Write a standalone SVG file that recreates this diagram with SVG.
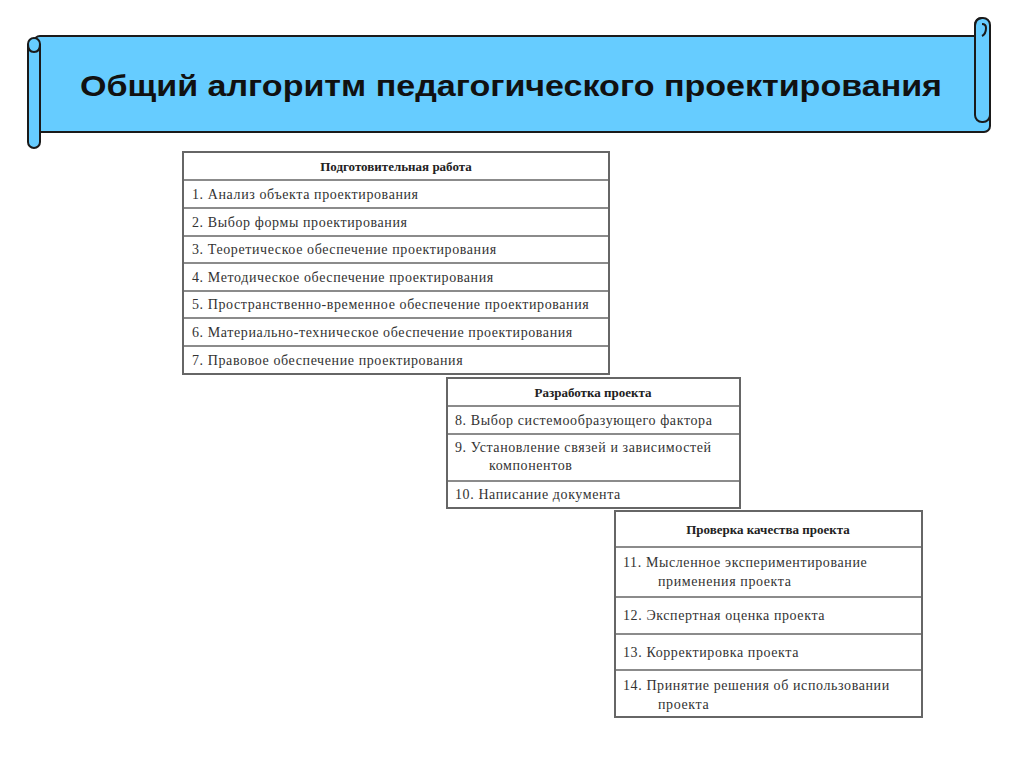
<svg xmlns="http://www.w3.org/2000/svg" width="1024" height="767" viewBox="0 0 1024 767">
<style>
.t{font-family:"Liberation Serif",serif;font-size:14px;letter-spacing:0.6px;fill:#333}
.h{font-family:"Liberation Serif",serif;font-size:13px;font-weight:bold;fill:#222}
.box{fill:#fff;stroke:#666;stroke-width:2}
.ln{stroke:#666;stroke-width:1.5}
.sc{fill:#66CCFF;stroke:#1a1a1a;stroke-width:2}
</style>
<rect width="1024" height="767" fill="#fff"/>
<g id="banner">
<rect class="sc" x="34" y="36" width="956" height="96" rx="6"/>
<rect class="sc" x="28" y="38" width="12" height="110" rx="6"/>
<path d="M28,44 Q28,52 34,52 Q40,52 40,44" fill="none" stroke="#1a1a1a" stroke-width="2"/>
<rect class="sc" x="975" y="18" width="15" height="104" rx="7"/>
<path d="M975,36 L975,26 Q975,18 982,18 M982,36 Q986,34 986,28 Q986,24 982,24" fill="none" stroke="#1a1a1a" stroke-width="2"/>
<text x="511" y="96" text-anchor="middle" font-family="Liberation Sans,Arial,sans-serif" font-size="30" font-weight="bold" fill="#111" textLength="862" lengthAdjust="spacingAndGlyphs">Общий алгоритм педагогического проектирования</text>
</g>
<g id="table1">
<rect class="box" x="183" y="152" width="426" height="222"/>
<path class="ln" d="M183,180H609M183,208H609M183,236H609M183,263H609M183,291H609M183,318H609M183,346H609"/>
<text class="h" x="396" y="171" text-anchor="middle">Подготовительная работа</text>
<text class="t" x="192" y="199">1. Анализ объекта проектирования</text>
<text class="t" x="192" y="227">2. Выбор формы проектирования</text>
<text class="t" x="192" y="254">3. Теоретическое обеспечение проектирования</text>
<text class="t" x="192" y="282">4. Методическое обеспечение проектирования</text>
<text class="t" x="192" y="309">5. Пространственно-временное обеспечение проектирования</text>
<text class="t" x="192" y="337">6. Материально-техническое обеспечение проектирования</text>
<text class="t" x="192" y="365">7. Правовое обеспечение проектирования</text>
</g>
<g id="table2">
<rect class="box" x="447" y="378" width="293" height="130"/>
<path class="ln" d="M447,406H740M447,434H740M447,481H740"/>
<text class="h" x="593" y="397" text-anchor="middle">Разработка проекта</text>
<text class="t" x="455" y="425">8. Выбор системообразующего  фактора</text>
<text class="t" x="455" y="452">9. Установление связей и зависимостей</text>
<text class="t" x="489" y="470">компонентов</text>
<text class="t" x="455" y="499">10. Написание документа</text>
</g>
<g id="table3">
<rect class="box" x="615" y="511" width="307" height="206"/>
<path class="ln" d="M615,547H922M615,597H922M615,634H922M615,670H922"/>
<text class="h" x="768" y="534" text-anchor="middle">Проверка качества проекта</text>
<text class="t" x="623" y="567">11. Мысленное экспериментирование</text>
<text class="t" x="658" y="586">применения проекта</text>
<text class="t" x="623" y="620">12. Экспертная оценка проекта</text>
<text class="t" x="623" y="657">13. Корректировка проекта</text>
<text class="t" x="623" y="690">14. Принятие решения об использовании</text>
<text class="t" x="658" y="709">проекта</text>
</g>
</svg>
